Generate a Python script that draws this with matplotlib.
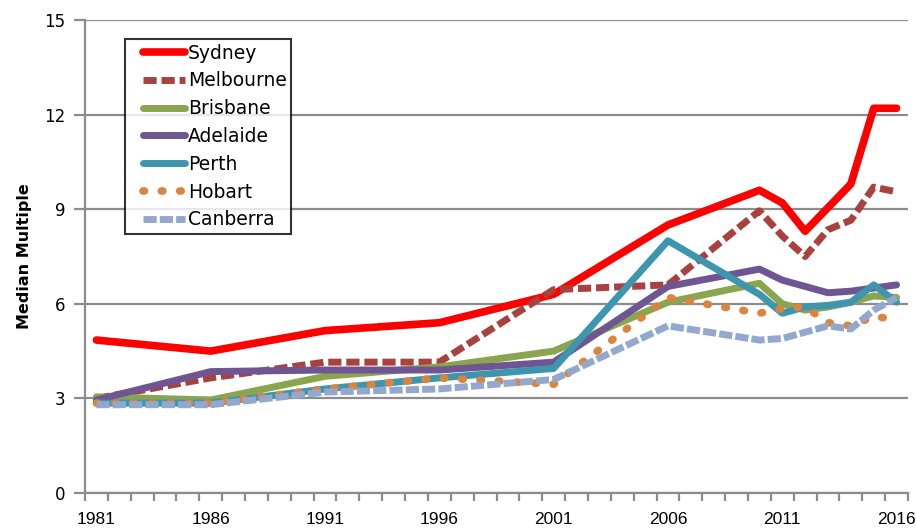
import matplotlib.pyplot as plt
from matplotlib.lines import Line2D
from matplotlib.legend_handler import HandlerLine2D
from matplotlib.ticker import FixedLocator

# median multiple by city, census years then annual from 2010
years = [1981, 1986, 1991, 1996, 2001, 2006, 2010, 2011, 2012, 2013, 2014, 2015, 2016]
sydney = [4.85, 4.5, 5.15, 5.4, 6.3, 8.5, 9.6, 9.2, 8.3, 9.05, 9.8, 12.2, 12.2]
melbourne = [3.0, 3.65, 4.15, 4.15, 6.45, 6.6, 8.95, 8.15, 7.5, 8.35, 8.65, 9.7, 9.55]
brisbane = [3.05, 2.95, 3.7, 4.0, 4.5, 6.05, 6.65, 6.0, 5.8, 5.9, 6.05, 6.25, 6.2]
adelaide = [2.95, 3.85, 3.9, 3.9, 4.15, 6.55, 7.1, 6.75, 6.55, 6.35, 6.4, 6.5, 6.6]
perth = [2.85, 2.85, 3.3, 3.65, 3.95, 8.0, 6.3, 5.7, 5.9, 5.95, 6.05, 6.6, 6.05]
hobart = [2.85, 2.85, 3.3, 3.65, 3.45, 6.2, 5.7, 5.85, 5.9, 5.4, 5.3, 5.6, 5.5]
canberra = [2.8, 2.8, 3.2, 3.3, 3.6, 5.3, 4.85, 4.9, 5.1, 5.3, 5.2, 5.8, 6.2]

first_year, last_year = 1981, 2016
label_years = [1981, 1986, 1991, 1996, 2001, 2006, 2011, 2016]


class InsetLine(HandlerLine2D):
    # legend sample drawn only over the right part of the handle box
    def create_artists(self, legend, orig_handle, xdescent, ydescent,
                       width, height, fontsize, trans):
        shift = 0.24 * width
        return super().create_artists(legend, orig_handle, xdescent - shift,
                                      ydescent, width - shift, height,
                                      fontsize, trans)


fig = plt.figure(figsize=(9.16, 5.30), dpi=100)
ax = fig.add_axes([0.0928, 0.0698, 0.8985, 0.8925])

x = [y - first_year for y in years]
lw = 5
ax.plot(x, sydney, color='#FF0000', lw=5.5, solid_capstyle='round', label='Sydney')
ax.plot(x, melbourne, color='#A9423F', lw=lw, linestyle=(0, (1.9, 0.7)),
        dash_capstyle='butt', label='Melbourne')
ax.plot(x, brisbane, color='#89A54E', lw=lw, solid_capstyle='round', label='Brisbane')
ax.plot(x, adelaide, color='#6F5592', lw=lw, solid_capstyle='round', label='Adelaide')
ax.plot(x, perth, color='#3D96AE', lw=lw, solid_capstyle='round', label='Perth')
ax.plot(x, hobart, color='#DB843D', lw=5.5, linestyle=(0, (0.2, 2.2)),
        dash_capstyle='round', label='Hobart')
ax.plot(x, canberra, color='#92A8CD', lw=lw, linestyle=(0, (1.9, 0.45)),
        dash_capstyle='butt', label='Canberra')

grey = '#8C8C8C'
ax.set_ylim(0, 15)
ax.set_yticks([0, 3, 6, 9, 12, 15])
ax.yaxis.grid(True, color=grey, lw=1.6)
ax.set_axisbelow(True)

n = last_year - first_year
ax.set_xlim(-0.5, n + 0.5)
ax.set_xticks([y - first_year for y in label_years])
ax.set_xticklabels([str(y) for y in label_years],
                   family=['Liberation Sans', 'DejaVu Sans'], fontsize=12.5)
ax.xaxis.set_minor_locator(FixedLocator([i - 0.5 for i in range(n + 2)]))
ax.tick_params(axis='x', which='major', length=0, pad=14)
ax.tick_params(axis='x', which='minor', length=6, width=1.6, color=grey)
ax.tick_params(axis='y', length=8, width=1.6, color=grey, labelsize=12, pad=6)

for side in ['top', 'right']:
    ax.spines[side].set_visible(False)
for side in ['left', 'bottom']:
    ax.spines[side].set_color(grey)
    ax.spines[side].set_linewidth(1.6)

ax.set_ylabel('Median Multiple', fontsize=11.5, fontweight='bold', labelpad=9)

leg = ax.legend(loc='upper left', bbox_to_anchor=(0.0486, 0.96), fontsize=13.5,
                frameon=True, fancybox=False, edgecolor='black', borderaxespad=0,
                handlelength=2.93, handletextpad=0.16, labelspacing=0.47,
                borderpad=0.25, handler_map={Line2D: InsetLine()})
leg.get_frame().set_linewidth(1.5)

fig.savefig('out.png', dpi=100)
